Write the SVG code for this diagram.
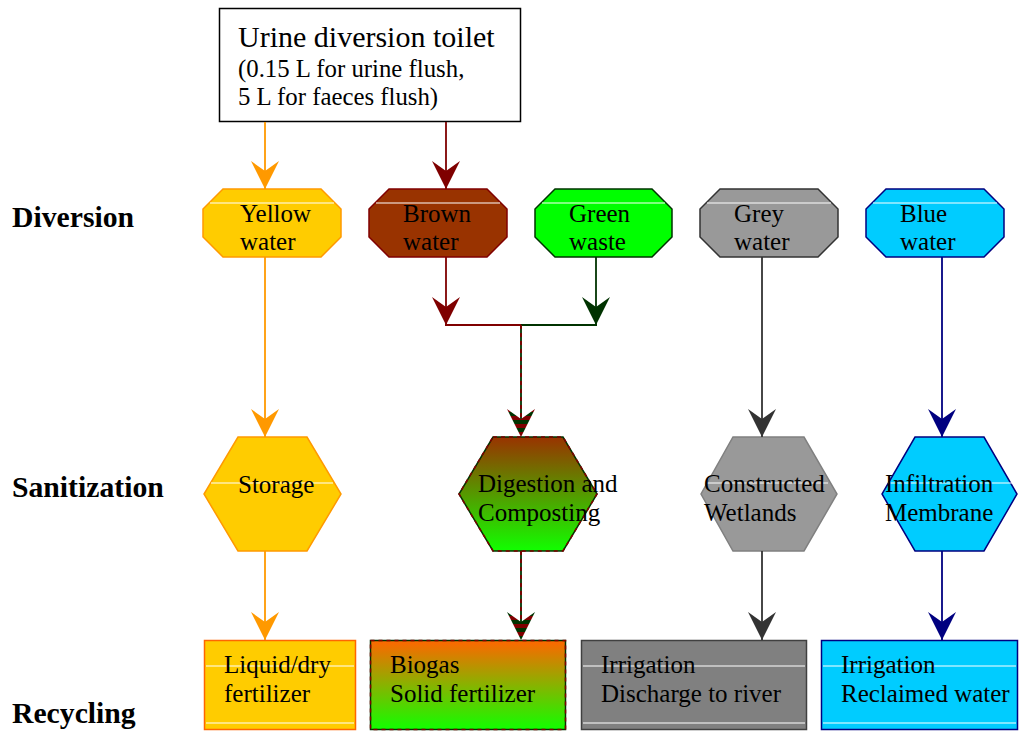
<svg xmlns="http://www.w3.org/2000/svg" width="1021" height="732" viewBox="0 0 1021 732">
<style>
text{font-family:"Liberation Serif","Times New Roman",serif;fill:#000}
.lbl{font-size:29.7px;font-weight:bold}
.t{font-size:25px}
.title{font-size:30px}
.sub{font-size:24.8px}
.wl{stroke:#fff;stroke-width:1.2}
.c{fill:none;stroke-width:1.8}
</style>
<defs>
<marker id="aY" markerUnits="userSpaceOnUse" markerWidth="28" markerHeight="28" viewBox="0 0 28 28" refX="28" refY="14" orient="auto"><path d="M0,0 L28,14 L0,28 L10,14 Z" fill="#FF9900"/></marker>
<marker id="aB" markerUnits="userSpaceOnUse" markerWidth="28" markerHeight="28" viewBox="0 0 28 28" refX="28" refY="14" orient="auto"><path d="M0,0 L28,14 L0,28 L10,14 Z" fill="#7F0000"/></marker>
<marker id="aG" markerUnits="userSpaceOnUse" markerWidth="28" markerHeight="28" viewBox="0 0 28 28" refX="28" refY="14" orient="auto"><path d="M0,0 L28,14 L0,28 L10,14 Z" fill="#003300"/></marker>
<marker id="aK" markerUnits="userSpaceOnUse" markerWidth="28" markerHeight="28" viewBox="0 0 28 28" refX="28" refY="14" orient="auto"><path d="M0,0 L28,14 L0,28 L10,14 Z" fill="#333333"/></marker>
<marker id="aN" markerUnits="userSpaceOnUse" markerWidth="28" markerHeight="28" viewBox="0 0 28 28" refX="28" refY="14" orient="auto"><path d="M0,0 L28,14 L0,28 L10,14 Z" fill="#000080"/></marker>
<pattern id="stripes" patternUnits="userSpaceOnUse" width="8" height="8"><rect width="8" height="4" fill="#7F0000"/><rect y="4" width="8" height="4" fill="#003300"/></pattern>
<linearGradient id="gDig" x1="0" y1="0" x2="0" y2="1"><stop offset="0" stop-color="#993300"/><stop offset="1" stop-color="#11FF00"/></linearGradient>
<linearGradient id="gBio" x1="0" y1="0" x2="0" y2="1"><stop offset="0" stop-color="#FF6600"/><stop offset="1" stop-color="#11FF00"/></linearGradient>
</defs>
<rect width="1021" height="732" fill="#fff"/>

<g id="stage-labels">
<text class="lbl" x="12" y="227">Diversion</text>
<text class="lbl" x="12" y="497">Sanitization</text>
<text class="lbl" x="12" y="723">Recycling</text>
</g>

<g id="toilet">
<rect x="219.5" y="8.5" width="301" height="113" fill="#fff" stroke="#000" stroke-width="1.5"/>
<text class="title" x="238" y="47">Urine diversion toilet</text>
<text class="sub" x="238" y="77">(0.15 L for urine flush,</text>
<text class="sub" x="238" y="105">5 L for faeces flush)</text>
</g>

<g id="yellow-water">
<polygon points="223,189 321,189 341,209 341,237 321,257 223,257 203,237 203,209" fill="#FFCC00" stroke="#FF9900" stroke-width="1.5"/>
<line class="wl" x1="210" y1="203" x2="334" y2="203"/>
<text class="t" x="240" y="222">Yellow</text>
<text class="t" x="240" y="250">water</text>
</g>
<g id="brown-water">
<polygon points="389,189 487,189 507,209 507,237 487,257 389,257 369,237 369,209" fill="#993300" stroke="#800000" stroke-width="1.5"/>
<line class="wl" x1="376" y1="203" x2="500" y2="203"/>
<text class="t" x="403" y="222">Brown</text>
<text class="t" x="403" y="250">water</text>
</g>
<g id="green-waste">
<polygon points="555,189 652,189 672,209 672,237 652,257 555,257 535,237 535,209" fill="#00FF00" stroke="#003300" stroke-width="1.5"/>
<line class="wl" x1="542" y1="203" x2="665" y2="203"/>
<text class="t" x="569" y="222">Green</text>
<text class="t" x="569" y="250">waste</text>
</g>
<g id="grey-water">
<polygon points="720,189 818,189 838,209 838,237 818,257 720,257 700,237 700,209" fill="#999999" stroke="#333333" stroke-width="1.5"/>
<line class="wl" x1="707" y1="203" x2="831" y2="203"/>
<text class="t" x="734" y="222">Grey</text>
<text class="t" x="734" y="250">water</text>
</g>
<g id="blue-water">
<polygon points="886,189 984,189 1004,209 1004,237 984,257 886,257 866,237 866,209" fill="#00CCFF" stroke="#000080" stroke-width="1.5"/>
<line class="wl" x1="873" y1="203" x2="997" y2="203"/>
<text class="t" x="900" y="222">Blue</text>
<text class="t" x="900" y="250">water</text>
</g>

<g id="storage">
<polygon points="238,437 307,437 341,494 307,551 238,551 204,494" fill="#FFCC00" stroke="#FF9900" stroke-width="1.5"/>
<line class="wl" x1="211" y1="483" x2="333" y2="483"/>
<text class="t" x="238" y="493">Storage</text>
</g>
<g id="digestion">
<polygon points="493,437 563,437 597,494 563,551 493,551 459,494" fill="url(#gDig)" stroke="#003300" stroke-width="1.5"/>
<polygon points="493,437 563,437 597,494 563,551 493,551 459,494" fill="none" stroke="#800000" stroke-width="1.5" stroke-dasharray="4 4"/>
<text class="t" x="478" y="492">Digestion and</text>
<text class="t" x="478" y="521">Composting</text>
</g>
<g id="wetlands">
<polygon points="733,437 804,437 837,494 804,551 733,551 701,494" fill="#999999" stroke="#808080" stroke-width="1.5"/>
<line class="wl" x1="707" y1="483" x2="828" y2="483"/>
<text class="t" x="704" y="492">Constructed</text>
<text class="t" x="704" y="521">Wetlands</text>
</g>
<g id="membrane">
<polygon points="915,437 984,437 1017,494 984,551 915,551 882,494" fill="#00CCFF" stroke="#000080" stroke-width="1.5"/>
<line class="wl" x1="888" y1="483" x2="1013" y2="483"/>
<text class="t" x="885" y="492">Infiltration</text>
<text class="t" x="885" y="521">Membrane</text>
</g>

<g id="fertilizer">
<rect x="204.5" y="640.5" width="151" height="89" fill="#FFCC00" stroke="#FF6600" stroke-width="1.5"/>
<line class="wl" x1="206" y1="666" x2="354" y2="666"/>
<line class="wl" x1="206" y1="723" x2="354" y2="723"/>
<text class="t" x="224" y="673">Liquid/dry</text>
<text class="t" x="224" y="702">fertilizer</text>
</g>
<g id="biogas">
<rect x="370.5" y="640.5" width="195" height="89" fill="url(#gBio)" stroke="#003300" stroke-width="1.5"/>
<rect x="370.5" y="640.5" width="195" height="89" fill="none" stroke="#800000" stroke-width="1.5" stroke-dasharray="4 4"/>
<text class="t" x="390" y="673">Biogas</text>
<text class="t" x="390" y="702">Solid fertilizer</text>
</g>
<g id="irrigation-river">
<rect x="581.5" y="640.5" width="225" height="89" fill="#808080" stroke="#404040" stroke-width="1.5"/>
<line class="wl" x1="583" y1="666" x2="805" y2="666"/>
<line class="wl" x1="583" y1="723" x2="805" y2="723"/>
<text class="t" x="601" y="673">Irrigation</text>
<text class="t" x="601" y="702">Discharge to river</text>
</g>
<g id="irrigation-reclaimed">
<rect x="821.5" y="640.5" width="196" height="89" fill="#00CCFF" stroke="#000080" stroke-width="1.5"/>
<line class="wl" x1="823" y1="666" x2="1016" y2="666"/>
<line class="wl" x1="823" y1="723" x2="1016" y2="723"/>
<text class="t" x="841" y="673">Irrigation</text>
<text class="t" x="841" y="702">Reclaimed water</text>
</g>

<g id="connectors">
<line class="c" stroke="#FF9900" x1="265" y1="122" x2="265" y2="189" marker-end="url(#aY)"/>
<line class="c" stroke="#7F0000" x1="446" y1="122" x2="446" y2="189" marker-end="url(#aB)"/>
<line class="c" stroke="#FF9900" x1="265" y1="257" x2="265" y2="437" marker-end="url(#aY)"/>
<line class="c" stroke="#FF9900" x1="265" y1="551" x2="265" y2="640" marker-end="url(#aY)"/>
<line class="c" stroke="#7F0000" x1="446" y1="257" x2="446" y2="325" marker-end="url(#aB)"/>
<line class="c" stroke="#003300" x1="596" y1="257" x2="596" y2="325" marker-end="url(#aG)"/>
<line class="c" stroke="#7F0000" x1="445" y1="325" x2="521" y2="325"/>
<line class="c" stroke="#003300" x1="521" y1="325" x2="597" y2="325"/>
<line class="c" stroke="#003300" x1="521" y1="325" x2="521" y2="425"/>
<line class="c" stroke="#7F0000" stroke-dasharray="4 4" x1="521" y1="325" x2="521" y2="425"/>
<polygon points="507,409 521,419 535,409 521,437" fill="url(#stripes)"/>
<line class="c" stroke="#003300" x1="521" y1="551" x2="521" y2="628"/>
<line class="c" stroke="#7F0000" stroke-dasharray="4 4" x1="521" y1="551" x2="521" y2="628"/>
<polygon points="507,612 521,622 535,612 521,640" fill="url(#stripes)"/>
<line class="c" stroke="#333333" x1="762" y1="257" x2="762" y2="437" marker-end="url(#aK)"/>
<line class="c" stroke="#333333" x1="762" y1="551" x2="762" y2="640" marker-end="url(#aK)"/>
<line class="c" stroke="#000080" x1="942" y1="257" x2="942" y2="437" marker-end="url(#aN)"/>
<line class="c" stroke="#000080" x1="942" y1="551" x2="942" y2="640" marker-end="url(#aN)"/>
</g>
</svg>
